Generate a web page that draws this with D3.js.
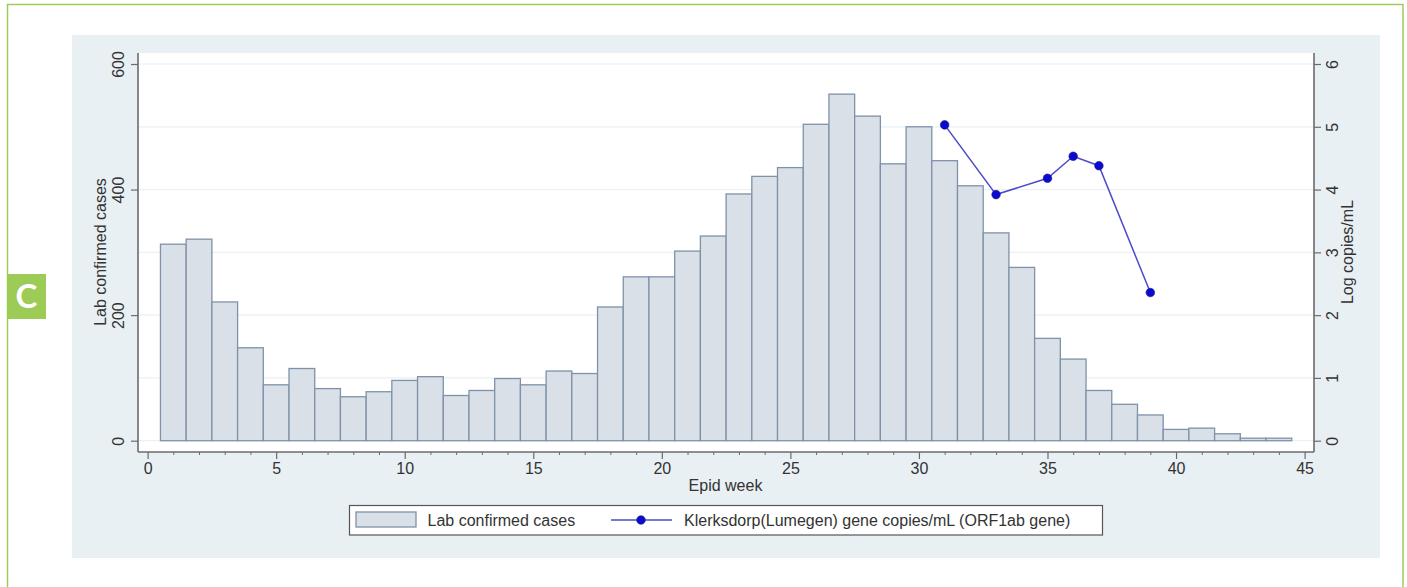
<!DOCTYPE html>
<html>
<head>
<meta charset="utf-8">
<script src="https://cdn.jsdelivr.net/npm/d3@7"></script>
<style>
  body { margin: 0; background: #fff; }
  svg { display: block; font-family: "Liberation Sans", Arial, sans-serif; }
</style>
</head>
<body>
<svg id="chart" width="1407" height="587"></svg>
<script>
// weekly lab confirmed cases, epid weeks 1..44
var weeks = d3.range(1, 45);
var cases = [313, 321, 221, 148, 89, 115, 83, 70, 78, 96,
             102, 72, 80, 99, 89, 111, 107, 213, 261, 261,
             302, 326, 393, 421, 435, 504, 552, 517, 441, 500,
             446, 406, 331, 276, 163, 130, 80, 58, 41, 18,
             20, 11, 4, 4];

// wastewater log copies/mL
var sampleWeeks = [31, 33, 35, 36, 37, 39];
var logCopies = [5.03, 3.92, 4.18, 4.53, 4.38, 2.36];

var xTicks = [0, 5, 10, 15, 20, 25, 30, 35, 40, 45];
var leftTicks = [0, 200, 400, 600];
var rightTicks = [0, 1, 2, 3, 4, 5, 6];
var gridValues = [0, 100, 200, 300, 400, 500, 600];

var svg = d3.select("#chart");

// outer green frame + panel label
svg.append("rect").attr("x", 7.5).attr("y", 4.5).attr("width", 1395.5).attr("height", 600)
  .attr("fill", "none").attr("stroke", "#9acd5a").attr("stroke-width", 1.5);
svg.append("rect").attr("x", 7).attr("y", 274).attr("width", 39).attr("height", 45)
  .attr("fill", "#9ccc55");
svg.append("text").attr("x", 26.5).attr("y", 308).attr("text-anchor", "middle")
  .attr("fill", "#fff").attr("font-family", "Lato, 'Open Sans', sans-serif")
  .attr("font-weight", "bold").attr("font-size", 33).text("C");

// graph region background
svg.append("rect").attr("x", 72).attr("y", 35).attr("width", 1308).attr("height", 523)
  .attr("fill", "#e9f0f3");

var plot = {left: 138, top: 53, right: 1314, bottom: 452};
svg.append("rect").attr("x", plot.left).attr("y", plot.top)
  .attr("width", plot.right - plot.left).attr("height", plot.bottom - plot.top)
  .attr("fill", "#fff");

var x = d3.scaleLinear().domain([0, 45]).range([147.6, 1304.6]);
var y = d3.scaleLinear().domain([0, 600]).range([440.7, 64]);
var y2 = d3.scaleLinear().domain([0, 6]).range([440.7, 64]);

// grid
svg.append("g").selectAll("line").data(gridValues).enter().append("line")
  .attr("x1", plot.left).attr("x2", plot.right)
  .attr("y1", function(d){ return y(d); }).attr("y2", function(d){ return y(d); })
  .attr("stroke", "#eaf0f3").attr("stroke-width", 1.2);

// bars
svg.append("g").selectAll("rect").data(weeks).enter().append("rect")
  .attr("x", function(d){ return x(d - 0.5); })
  .attr("width", function(d){ return x(d + 0.5) - x(d - 0.5); })
  .attr("y", function(d, i){ return y(cases[i]); })
  .attr("height", function(d, i){ return y(0) - y(cases[i]); })
  .attr("fill", "#d9e0e8").attr("stroke", "#7f92a8").attr("stroke-width", 1.3);

// line series
var pts = sampleWeeks.map(function(w, i){ return [w, logCopies[i]]; });
svg.append("path").datum(pts)
  .attr("d", d3.line().x(function(d){ return x(d[0]); }).y(function(d){ return y2(d[1]); }))
  .attr("fill", "none").attr("stroke", "#4b4bcc").attr("stroke-width", 1.5);
svg.append("g").selectAll("circle").data(pts).enter().append("circle")
  .attr("cx", function(d){ return x(d[0]); }).attr("cy", function(d){ return y2(d[1]); })
  .attr("r", 4.3).attr("fill", "#0a0ad0").attr("stroke", "#1a1a80").attr("stroke-width", 0.6);

// axes
var axisColor = "#6b6b6b";
var textColor = "#333";

var gx = svg.append("g").attr("transform", "translate(0," + plot.bottom + ")")
  .call(d3.axisBottom(x).tickValues(xTicks).tickSize(7).tickSizeOuter(0));
svg.append("g").attr("transform", "translate(0," + plot.bottom + ")")
  .call(d3.axisBottom(x).tickValues(d3.range(0, 46).filter(function(d){ return d % 5; }))
    .tickSize(3).tickSizeOuter(0).tickFormat(""))
  .select(".domain").remove();

var gl = svg.append("g").attr("transform", "translate(" + plot.left + ",0)")
  .call(d3.axisLeft(y).tickValues(leftTicks).tickSize(7).tickSizeOuter(0));
var gr = svg.append("g").attr("transform", "translate(" + plot.right + ",0)")
  .call(d3.axisRight(y2).tickValues(rightTicks).tickFormat(d3.format("d")).tickSize(7).tickSizeOuter(0));

[gx, gl, gr].forEach(function(g){
  g.select(".domain").attr("stroke", axisColor).attr("stroke-width", 1.6);
  g.selectAll(".tick line").attr("stroke", axisColor).attr("stroke-width", 1.2);
  g.selectAll("text").attr("fill", textColor).attr("font-size", 16)
    .attr("font-family", "'Liberation Sans', Arial, sans-serif");
});
svg.selectAll("g .tick line").attr("stroke", axisColor);

// extend axis lines over full plot frame
gx.select(".domain").attr("d", "M" + plot.left + ",0H" + plot.right);
gl.select(".domain").attr("d", "M0," + plot.top + "V" + plot.bottom);
gr.select(".domain").attr("d", "M0," + plot.top + "V" + plot.bottom);

gx.selectAll("text").attr("y", 0).attr("dy", 0).attr("transform", "translate(0,21.5)");
gl.selectAll("text").attr("transform", "rotate(-90)").attr("x", 0).attr("y", -14.5)
  .attr("dy", 0).attr("text-anchor", "middle");
gr.selectAll("text").attr("transform", "rotate(-90)").attr("x", 0).attr("y", 24)
  .attr("dy", 0).attr("text-anchor", "middle");

// axis titles
svg.append("text").attr("x", (plot.left + plot.right) / 2 - 0.5).attr("y", 490.5)
  .attr("text-anchor", "middle").attr("font-size", 16).attr("fill", textColor).text("Epid week");
svg.append("text").attr("transform", "translate(105.5,252) rotate(-90)")
  .attr("text-anchor", "middle").attr("font-size", 16).attr("fill", textColor).text("Lab confirmed cases");
svg.append("text").attr("transform", "translate(1353,252) rotate(-90)")
  .attr("text-anchor", "middle").attr("font-size", 16).attr("fill", textColor).text("Log copies/mL");

// legend
var lg = svg.append("g");
lg.append("rect").attr("x", 349.5).attr("y", 505.5).attr("width", 753).attr("height", 29.5)
  .attr("fill", "#fff").attr("stroke", "#555").attr("stroke-width", 1.2);
lg.append("rect").attr("x", 356).attr("y", 512).attr("width", 60).attr("height", 15)
  .attr("fill", "#d9e0e8").attr("stroke", "#7f92a8").attr("stroke-width", 1.3);
lg.append("text").attr("x", 427.5).attr("y", 526).attr("font-size", 16).attr("fill", textColor)
  .text("Lab confirmed cases");
lg.append("line").attr("x1", 611).attr("x2", 672).attr("y1", 520).attr("y2", 520)
  .attr("stroke", "#4b4bcc").attr("stroke-width", 1.5);
lg.append("circle").attr("cx", 641).attr("cy", 520).attr("r", 4.3)
  .attr("fill", "#0a0ad0").attr("stroke", "#1a1a80").attr("stroke-width", 0.6);
lg.append("text").attr("x", 684).attr("y", 526).attr("font-size", 16).attr("fill", textColor)
  .text("Klerksdorp(Lumegen) gene copies/mL (ORF1ab gene)");
</script>
</body>
</html>
